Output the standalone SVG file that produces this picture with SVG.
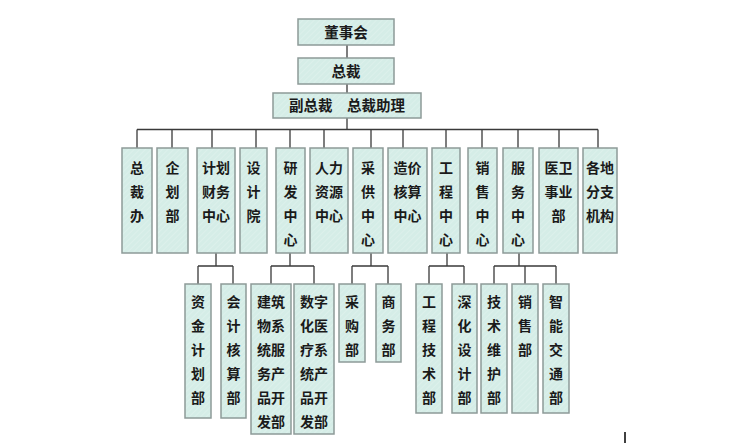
<svg xmlns="http://www.w3.org/2000/svg" width="734" height="443" viewBox="0 0 734 443">
<defs>
<pattern id="hatch" width="4" height="4" patternUnits="userSpaceOnUse" patternTransform="rotate(45)">
<rect width="4" height="4" fill="#d5ede7"/>
<line x1="0" y1="0" x2="0" y2="4" stroke="#e2f2ee" stroke-width="1.2"/>
</pattern>
</defs>
<style>
.box{fill:url(#hatch);stroke:#8d9a98;stroke-width:1.5}
.t{font-family:"Noto Sans CJK SC","Noto Sans CJK JP",sans-serif;font-weight:bold;font-size:14px;fill:#1a1a1a;text-anchor:middle}
.big{font-size:14.5px}
.c{fill:none;stroke:#3a3a3a;stroke-width:1.3}
</style>
<rect width="734" height="443" fill="#ffffff"/>
<g id="connectors">
<path class="c" d="M347 45V58M347 84V93M347 118V129.5"/>
<path class="c" d="M137 129.5H598M137 129.5V148M172 129.5V148M212 129.5V148M256 129.5V148M290 129.5V148M324 129.5V148M371 129.5V148M403 129.5V148M446 129.5V148M482 129.5V148M518 129.5V148M559 129.5V148M598 129.5V148"/>
<path class="c" d="M216 253V266M198 266H233M198 266V284M233 266V284"/>
<path class="c" d="M290 253V266M271 266H314M271 266V284M314 266V284"/>
<path class="c" d="M371 253V266M352 266H388M352 266V284M388 266V284"/>
<path class="c" d="M447 253V266M429 266H464M429 266V284M464 266V284"/>
<path class="c" d="M519 253V266M494 266H556M494 266V284M525 266V284M556 266V284"/>
</g>
<g id="n-dongshihui"><rect class="box" x="298" y="19" width="96" height="26"/><text class="t big" x="346" y="37.5">董事会</text></g>
<g id="n-zongcai"><rect class="box" x="298" y="58" width="96" height="26"/><text class="t big" x="346" y="76.5">总裁</text></g>
<g id="n-fuzongcai"><rect class="box" x="273" y="93" width="148" height="25"/><text class="t big" x="347" y="110.5">副总裁　总裁助理</text></g>

<g id="n-zcb"><rect class="box" x="122" y="148" width="30" height="105"/><text class="t"><tspan x="137" y="172.5">总</tspan><tspan x="137" y="196.5">裁</tspan><tspan x="137" y="220.5">办</tspan></text></g>
<g id="n-qhb"><rect class="box" x="157" y="148" width="31" height="105"/><text class="t"><tspan x="172.5" y="172.5">企</tspan><tspan x="172.5" y="196.5">划</tspan><tspan x="172.5" y="220.5">部</tspan></text></g>
<g id="n-jhcw"><rect class="box" x="197" y="148" width="38" height="105"/><text class="t"><tspan x="216" y="172.5">计划</tspan><tspan x="216" y="196.5">财务</tspan><tspan x="216" y="220.5">中心</tspan></text></g>
<g id="n-sjy"><rect class="box" x="240" y="148" width="27" height="105"/><text class="t"><tspan x="253.5" y="172.5">设</tspan><tspan x="253.5" y="196.5">计</tspan><tspan x="253.5" y="220.5">院</tspan></text></g>
<g id="n-yfzx"><rect class="box" x="276" y="148" width="29" height="105"/><text class="t"><tspan x="290.5" y="172.5">研</tspan><tspan x="290.5" y="196.5">发</tspan><tspan x="290.5" y="220.5">中</tspan><tspan x="290.5" y="244.5">心</tspan></text></g>
<g id="n-rlzy"><rect class="box" x="310" y="148" width="38" height="105"/><text class="t"><tspan x="329" y="172.5">人力</tspan><tspan x="329" y="196.5">资源</tspan><tspan x="329" y="220.5">中心</tspan></text></g>
<g id="n-cgzx"><rect class="box" x="353" y="148" width="30" height="105"/><text class="t"><tspan x="368" y="172.5">采</tspan><tspan x="368" y="196.5">供</tspan><tspan x="368" y="220.5">中</tspan><tspan x="368" y="244.5">心</tspan></text></g>
<g id="n-zjhs"><rect class="box" x="388" y="148" width="39" height="105"/><text class="t"><tspan x="407.5" y="172.5">造价</tspan><tspan x="407.5" y="196.5">核算</tspan><tspan x="407.5" y="220.5">中心</tspan></text></g>
<g id="n-gczx"><rect class="box" x="432" y="148" width="28" height="105"/><text class="t"><tspan x="446" y="172.5">工</tspan><tspan x="446" y="196.5">程</tspan><tspan x="446" y="220.5">中</tspan><tspan x="446" y="244.5">心</tspan></text></g>
<g id="n-xszx"><rect class="box" x="468" y="148" width="29" height="105"/><text class="t"><tspan x="482.5" y="172.5">销</tspan><tspan x="482.5" y="196.5">售</tspan><tspan x="482.5" y="220.5">中</tspan><tspan x="482.5" y="244.5">心</tspan></text></g>
<g id="n-fwzx"><rect class="box" x="503" y="148" width="30" height="105"/><text class="t"><tspan x="518" y="172.5">服</tspan><tspan x="518" y="196.5">务</tspan><tspan x="518" y="220.5">中</tspan><tspan x="518" y="244.5">心</tspan></text></g>
<g id="n-ywsy"><rect class="box" x="539" y="148" width="39" height="105"/><text class="t"><tspan x="558.5" y="172.5">医卫</tspan><tspan x="558.5" y="196.5">事业</tspan><tspan x="558.5" y="220.5">部</tspan></text></g>
<g id="n-gdfz"><rect class="box" x="583" y="148" width="34" height="105"/><text class="t"><tspan x="600" y="172.5">各地</tspan><tspan x="600" y="196.5">分支</tspan><tspan x="600" y="220.5">机构</tspan></text></g>

<g id="n-zjjh"><rect class="box" x="185" y="284" width="26" height="134"/><text class="t"><tspan x="198" y="306.5">资</tspan><tspan x="198" y="330.5">金</tspan><tspan x="198" y="354.5">计</tspan><tspan x="198" y="378.5">划</tspan><tspan x="198" y="402.5">部</tspan></text></g>
<g id="n-kjhs"><rect class="box" x="221" y="284" width="25" height="134"/><text class="t"><tspan x="233.5" y="306.5">会</tspan><tspan x="233.5" y="330.5">计</tspan><tspan x="233.5" y="354.5">核</tspan><tspan x="233.5" y="378.5">算</tspan><tspan x="233.5" y="402.5">部</tspan></text></g>
<g id="n-jzw"><rect class="box" x="251" y="284" width="40" height="150"/><text class="t"><tspan x="271" y="306.5">建筑</tspan><tspan x="271" y="330.5">物系</tspan><tspan x="271" y="354.5">统服</tspan><tspan x="271" y="378.5">务产</tspan><tspan x="271" y="402.5">品开</tspan><tspan x="271" y="426.5">发部</tspan></text></g>
<g id="n-szh"><rect class="box" x="294" y="284" width="40" height="150"/><text class="t"><tspan x="314" y="306.5">数字</tspan><tspan x="314" y="330.5">化医</tspan><tspan x="314" y="354.5">疗系</tspan><tspan x="314" y="378.5">统产</tspan><tspan x="314" y="402.5">品开</tspan><tspan x="314" y="426.5">发部</tspan></text></g>
<g id="n-cgb"><rect class="box" x="339" y="284" width="26" height="78"/><text class="t"><tspan x="352" y="306.5">采</tspan><tspan x="352" y="330.5">购</tspan><tspan x="352" y="354.5">部</tspan></text></g>
<g id="n-swb"><rect class="box" x="376" y="284" width="25" height="78"/><text class="t"><tspan x="388.5" y="306.5">商</tspan><tspan x="388.5" y="330.5">务</tspan><tspan x="388.5" y="354.5">部</tspan></text></g>
<g id="n-gcjs"><rect class="box" x="416" y="284" width="26" height="129"/><text class="t"><tspan x="429" y="306.5">工</tspan><tspan x="429" y="330.5">程</tspan><tspan x="429" y="354.5">技</tspan><tspan x="429" y="378.5">术</tspan><tspan x="429" y="402.5">部</tspan></text></g>
<g id="n-shsj"><rect class="box" x="452" y="284" width="25" height="129"/><text class="t"><tspan x="464.5" y="306.5">深</tspan><tspan x="464.5" y="330.5">化</tspan><tspan x="464.5" y="354.5">设</tspan><tspan x="464.5" y="378.5">计</tspan><tspan x="464.5" y="402.5">部</tspan></text></g>
<g id="n-jswh"><rect class="box" x="481" y="284" width="26" height="129"/><text class="t"><tspan x="494" y="306.5">技</tspan><tspan x="494" y="330.5">术</tspan><tspan x="494" y="354.5">维</tspan><tspan x="494" y="378.5">护</tspan><tspan x="494" y="402.5">部</tspan></text></g>
<g id="n-xsb"><rect class="box" x="512" y="284" width="26" height="129"/><text class="t"><tspan x="525" y="306.5">销</tspan><tspan x="525" y="330.5">售</tspan><tspan x="525" y="354.5">部</tspan></text></g>
<g id="n-znjt"><rect class="box" x="543" y="284" width="26" height="129"/><text class="t"><tspan x="556" y="306.5">智</tspan><tspan x="556" y="330.5">能</tspan><tspan x="556" y="354.5">交</tspan><tspan x="556" y="378.5">通</tspan><tspan x="556" y="402.5">部</tspan></text></g>

<line x1="625" y1="432" x2="625" y2="443" stroke="#000" stroke-width="1.5"/>
</svg>
